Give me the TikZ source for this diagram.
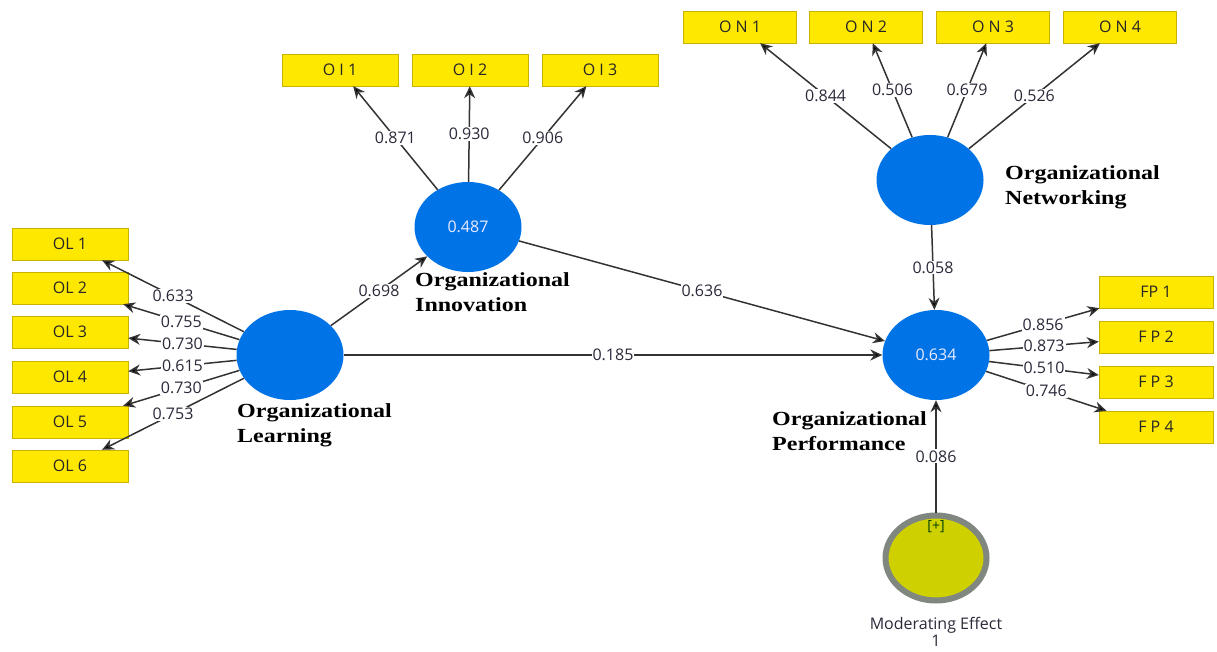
\documentclass[tikz,border=0pt]{standalone}
\usepackage{fontspec}
\setmainfont{Open Sans}
\newfontfamily\capfont[FakeStretch=1.2]{Liberation Serif}
\usetikzlibrary{shapes.geometric,arrows.meta}

\definecolor{boxfill}{HTML}{FFE800}
\definecolor{boxedge}{HTML}{C9B200}
\definecolor{lvblue}{HTML}{0073E6}
\definecolor{modfill}{HTML}{CFD000}
\definecolor{modedge}{HTML}{7F877F}
\definecolor{linegray}{HTML}{333333}
\definecolor{numtext}{HTML}{2A2A3A}

\tikzset{
  indicator/.style={draw=boxedge, fill=boxfill, minimum width=116pt, minimum height=32pt,
    inner sep=0pt, text=black!85, font=\fontsize{16}{18}\selectfont},
  latent/.style={ellipse, fill=lvblue, minimum width=107pt, minimum height=90pt,
    inner sep=0pt, text=white!92!blue, font=\fontsize{16}{18}\selectfont},
  link/.style={draw=linegray, line width=1.5pt, -{Stealth[length=12pt,width=11pt,fill=black]}},
  weight/.style={fill=white, inner sep=1pt, text=numtext, font=\fontsize{16}{18}\selectfont},
  caption/.style={anchor=west, align=left, inner sep=0pt,
    font=\capfont\bfseries\fontsize{20}{25}\selectfont}
}

\begin{document}
\begin{tikzpicture}[x=1pt,y=-1pt]
  \useasboundingbox (0,0) rectangle (1217,652);

  % latent variables
  \node[latent] (OL) at (290,355) {};
  \node[latent] (OI) at (468,227) {0.487};
  \node[latent] (ON) at (930,180) {};
  \node[latent] (OP) at (936,355) {0.634};
  \node[ellipse, draw=modedge, line width=6pt, fill=modfill, minimum width=101pt,
    minimum height=85pt, inner sep=0pt] (ME) at (936,558) {};
  \node[text=green!25!black, font=\fontsize{14}{16}\selectfont] (MEtag) at (936,527) {[+]};

  % captions
  \node[caption] (OLname) at (237,425) {Organizational\\Learning};
  \node[caption] (OIname) at (415,292) {Organizational\\Innovation};
  \node[caption] (ONname) at (1005,187) {Organizational\\Networking};
  \node[caption] (OPname) at (772,431) {Organizational\\Performance};
  \node[text=numtext, align=center, inner sep=0pt,
    font=\fontsize{16}{17}\selectfont] (MEname) at (936,632) {Moderating Effect\\1};

  % indicators
  \node[indicator] (OL1) at (70,244) {OL 1};
  \node[indicator] (OL2) at (70,288) {OL 2};
  \node[indicator] (OL3) at (70,332) {OL 3};
  \node[indicator] (OL4) at (70,377) {OL 4};
  \node[indicator] (OL5) at (70,422) {OL 5};
  \node[indicator] (OL6) at (70,466) {OL 6};

  \node[indicator] (OI1) at (340,70) {O I 1};
  \node[indicator] (OI2) at (470,70) {O I 2};
  \node[indicator] (OI3) at (600,70) {O I 3};

  \node[indicator, minimum width=113pt] (ON1) at (740,27) {O N 1};
  \node[indicator, minimum width=113pt] (ON2) at (866,27) {O N 2};
  \node[indicator, minimum width=113pt] (ON3) at (993,27) {O N 3};
  \node[indicator, minimum width=113pt] (ON4) at (1120,27) {O N 4};

  \node[indicator, minimum width=114pt] (FP1) at (1156,292) {FP 1};
  \node[indicator, minimum width=114pt] (FP2) at (1156,337) {F P 2};
  \node[indicator, minimum width=114pt] (FP3) at (1156,382) {F P 3};
  \node[indicator, minimum width=114pt] (FP4) at (1156,427) {F P 4};

  % outer loadings
  \draw[link] (OL) -- node[weight] {0.633} (OL1);
  \draw[link] (OL) -- node[weight] {0.755} (OL2);
  \draw[link] (OL) -- node[weight] {0.730} (OL3);
  \draw[link] (OL) -- node[weight] {0.615} (OL4);
  \draw[link] (OL) -- node[weight] {0.730} (OL5);
  \draw[link] (OL) -- node[weight] {0.753} (OL6);

  \draw[link] (OI) -- node[weight] {0.871} (OI1);
  \draw[link] (OI) -- node[weight] {0.930} (OI2);
  \draw[link] (OI) -- node[weight] {0.906} (OI3);

  \draw[link] (ON) -- node[weight] {0.844} (ON1);
  \draw[link] (ON) -- node[weight] {0.506} (ON2);
  \draw[link] (ON) -- node[weight] {0.679} (ON3);
  \draw[link] (ON) -- node[weight] {0.526} (ON4);

  \draw[link] (OP) -- node[weight] {0.856} (FP1);
  \draw[link] (OP) -- node[weight] {0.873} (FP2);
  \draw[link] (OP) -- node[weight] {0.510} (FP3);
  \draw[link] (OP) -- node[weight] {0.746} (FP4);

  % inner model
  \draw[link] (OL) -- node[weight] {0.698} (OI);
  \draw[link] (OI) -- node[weight] {0.636} (OP);
  \draw[link] (OL) -- node[weight] {0.185} (OP);
  \draw[link] (ON) -- node[weight] {0.058} (OP);
  \draw[link] (ME) -- node[weight] {0.086} (OP);
\end{tikzpicture}
\end{document}
